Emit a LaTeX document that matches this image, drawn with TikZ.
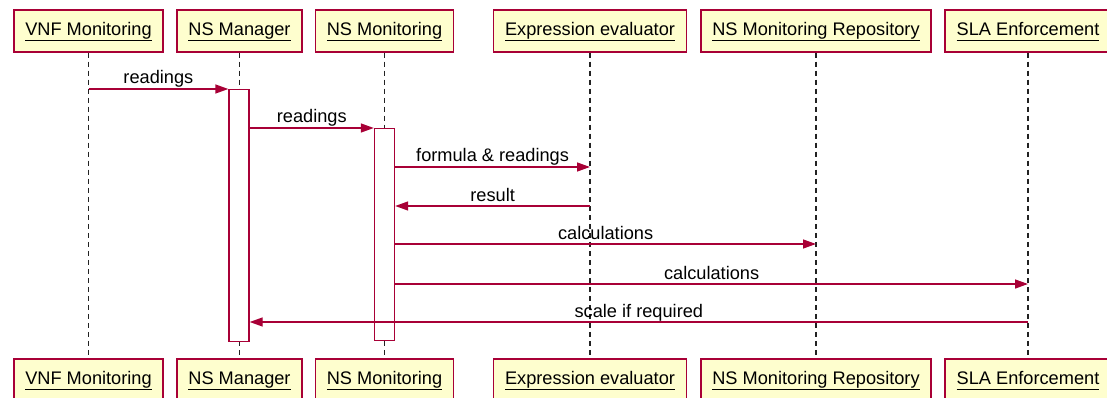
\documentclass[tikz,border=0pt]{standalone}
\usepackage{fontspec}
\setmainfont{Liberation Sans}
\usetikzlibrary{arrows.meta,positioning,calc}
\definecolor{umlred}{HTML}{A80036}
\definecolor{umlfill}{HTML}{FEFECE}
\definecolor{lifegray}{HTML}{222222}
\newcommand{\pname}[1]{\underline{#1\vphantom{g}}}

\begin{document}
\begin{tikzpicture}[x=1pt, y=-1pt, >={Triangle[length=13pt,width=9pt]},
  actor/.style={draw=umlred, line width=1.5pt, fill=umlfill,
    minimum height=42pt, text height=13pt, text depth=4pt,
    inner xsep=11.5pt, inner ysep=0pt,
    font=\fontsize{18.2}{22}\selectfont},
  life/.style={draw=lifegray, line width=1.2pt, dash pattern=on 5pt off 4pt},
  act/.style={draw=umlred, line width=1.4pt, fill=white, minimum width=20pt,
    inner sep=0pt, anchor=north},
  msg/.style={->, draw=umlred, line width=1.4pt},
  lbl/.style={anchor=base, yshift=5pt, inner sep=0pt,
    font=\fontsize{18.2}{22}\selectfont}]
\useasboundingbox (0,0) rectangle (1107,398);
\clip (0,0) rectangle (1107,398);
% participants, top row
\node[actor] (vnf) at (88.5,31) {\pname{VNF Monitoring}};
\node[actor] (nsm) at (239.5,31) {\pname{NS Manager}};
\node[actor] (nsmon) at (384.5,31) {\pname{NS Monitoring}};
\node[actor] (expr) at (590,31) {\pname{Expression evaluator}};
\node[actor] (repo) at (816,31) {\pname{NS Monitoring Repository}};
\node[actor] (sla) at (1028,31) {\pname{SLA Enforcement}};
% participants, bottom row
\node[actor] (vnfB) at (88.5,380) {\pname{VNF Monitoring}};
\node[actor] (nsmB) at (239.5,380) {\pname{NS Manager}};
\node[actor] (nsmonB) at (384.5,380) {\pname{NS Monitoring}};
\node[actor] (exprB) at (590,380) {\pname{Expression evaluator}};
\node[actor] (repoB) at (816,380) {\pname{NS Monitoring Repository}};
\node[actor] (slaB) at (1028,380) {\pname{SLA Enforcement}};
% lifelines
\draw[life] (vnf) -- (vnfB);
\draw[life] (nsm) -- (nsmB);
\draw[life] (nsmon) -- (nsmonB);
\draw[life] (expr) -- (exprB);
\draw[life] (repo) -- (repoB);
\draw[life] (sla) -- (slaB);
% activations
\node[act, minimum height=252pt] (actM) at (239,89) {};
\node[act, minimum height=212pt] (actMon) at (384.5,128) {};
% message rows
\coordinate (m1) at (0,89);
\coordinate (m2) at (0,128);
\coordinate (m3) at (0,167);
\coordinate (m4) at (0,206);
\coordinate (m5) at (0,244);
\coordinate (m6) at (0,284);
\coordinate (m7) at (0,322);
\draw[msg] (vnf |- m1) -- node[lbl] {readings} (actM.west |- m1);
\draw[msg] (actM.east |- m2) -- node[lbl] {readings} (actMon.west |- m2);
\draw[msg] (actMon.east |- m3) -- node[lbl] {formula \& readings} (expr |- m3);
\draw[msg] (expr |- m4) -- node[lbl] {result} (actMon.east |- m4);
\draw[msg] (actMon.east |- m5) -- node[lbl] {calculations} (repo |- m5);
\draw[msg] (actMon.east |- m6) -- node[lbl] {calculations} (sla |- m6);
\draw[msg] (sla |- m7) -- node[lbl] {scale if required} (actM.east |- m7);
\end{tikzpicture}
\end{document}
